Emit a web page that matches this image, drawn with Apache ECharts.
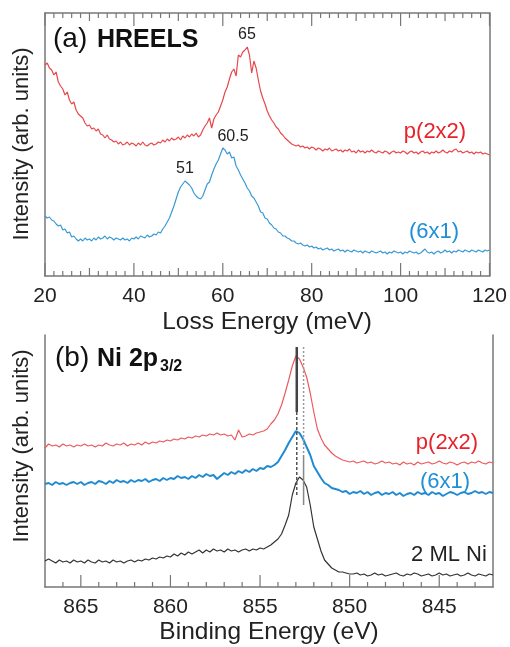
<!DOCTYPE html>
<html>
<head>
<meta charset="utf-8">
<script src="https://cdn.jsdelivr.net/npm/echarts@6/dist/echarts.min.js"></script>
<style>
html,body{margin:0;padding:0;background:#fff;}
#chart{width:510px;height:647px;}
</style>
</head>
<body>
<div id="chart"></div>
<script>
// (a) HREELS - loss energy in meV
var lossEnergy = [
  20,20.5,21,21.5,22,22.5,23,23.5,24,24.5,
  25,25.5,26,26.5,27,27.5,28,28.5,29,29.5,
  30,30.5,31,31.5,32,32.5,33,33.5,34,34.5,
  35,35.5,36,36.5,37,37.5,38,38.5,39,39.5,
  40,40.5,41,41.5,42,42.5,43,43.5,44,44.5,
  45,45.5,46,46.5,47,47.5,48,48.5,49,49.5,
  50,50.5,51,51.5,52,52.5,53,53.5,54,54.5,
  55,55.5,56,56.5,57,57.5,58,58.5,59,59.5,
  60,60.5,61,61.5,62,62.5,63,63.5,64,64.5,
  65,65.5,66,66.5,67,67.5,68,68.5,69,69.5,
  70,70.5,71,71.5,72,72.5,73,73.5,74,74.5,
  75,75.5,76,76.5,77,77.5,78,78.5,79,79.5,
  80,80.5,81,81.5,82,82.5,83,83.5,84,84.5,
  85,85.5,86,86.5,87,87.5,88,88.5,89,89.5,
  90,90.5,91,91.5,92,92.5,93,93.5,94,94.5,
  95,95.5,96,96.5,97,97.5,98,98.5,99,99.5,
  100,100.5,101,101.5,102,102.5,103,103.5,104,104.5,
  105,105.5,106,106.5,107,107.5,108,108.5,109,109.5,
  110,110.5,111,111.5,112,112.5,113,113.5,114,114.5,
  115,115.5,116,116.5,117,117.5,118,118.5,119,119.5,
  120
];
var hreelsP2x2 = [
  211,213,208,206,201,204,194,190,187,181,
  184,176,172,174,166,162,160,158,153,150,
  151,147,148,145,147,142,141,138,141,137,
  136,134,135,132,134,131,132,134,131,133,
  132,130,133,131,134,131,130,132,133,131,
  132,134,133,136,134,137,135,138,136,137,
  139,136,140,138,141,139,142,140,143,139,
  141,146,150,153,158,148,157,161,164,170,
  176,184,189,197,204,207,200,221,219,224,
  226,229,221,203,215,208,196,185,178,172,
  165,160,156,153,149,147,143,141,138,136,
  134,132,131,130,131,129,130,128,129,127,
  129,128,126,128,127,125,127,126,128,125,
  126,127,125,126,124,126,125,127,124,125,
  123,126,124,125,123,125,124,126,124,123,
  125,124,123,125,124,122,124,125,123,124,
  123,125,124,122,124,125,123,124,122,124,
  125,123,124,122,124,123,125,123,124,126,
  124,123,125,124,126,127,124,125,123,124,
  125,123,124,122,124,123,124,122,123,122,
  121
];
var hreels6x1 = [
  60,58,59,56,55,52,50,51,46,47,
  43,44,39,40,37,35,37,35,38,36,
  37,35,38,36,39,37,38,40,37,39,
  38,36,38,37,36,38,36,37,35,38,
  37,39,37,40,39,38,41,39,40,42,
  41,44,43,47,50,54,58,64,70,77,
  84,89,92,95,93,91,88,83,80,78,
  77,80,86,92,94,101,107,112,116,122,
  128,126,122,124,118,119,110,106,101,97,
  93,88,85,80,78,74,70,64,63,58,
  57,53,51,48,47,44,43,40,40,38,
  37,35,35,33,32,33,31,30,31,29,
  30,28,29,27,28,26,27,28,26,27,
  25,26,27,25,26,24,26,25,24,26,
  25,24,25,23,25,24,23,25,24,23,
  24,25,23,24,22,24,23,25,24,23,
  24,22,24,23,25,24,23,24,22,23,
  25,27,24,23,24,22,24,25,23,24,
  26,24,25,23,25,24,26,25,24,26,
  25,24,26,25,24,26,25,24,26,25,
  26
];

// (b) Ni 2p3/2 XPS - binding energy in eV
var bindingEnergy = [
  842,842.2,842.4,842.6,842.8,843,843.2,843.4,843.6,843.8,
  844,844.2,844.4,844.6,844.8,845,845.2,845.4,845.6,845.8,
  846,846.2,846.4,846.6,846.8,847,847.2,847.4,847.6,847.8,
  848,848.2,848.4,848.6,848.8,849,849.2,849.4,849.6,849.8,
  850,850.2,850.4,850.6,850.8,851,851.2,851.4,851.6,851.8,
  852,852.2,852.4,852.6,852.8,853,853.2,853.4,853.6,853.8,
  854,854.2,854.4,854.6,854.8,855,855.2,855.4,855.6,855.8,
  856,856.2,856.4,856.6,856.8,857,857.2,857.4,857.6,857.8,
  858,858.2,858.4,858.6,858.8,859,859.2,859.4,859.6,859.8,
  860,860.2,860.4,860.6,860.8,861,861.2,861.4,861.6,861.8,
  862,862.2,862.4,862.6,862.8,863,863.2,863.4,863.6,863.8,
  864,864.2,864.4,864.6,864.8,865,865.2,865.4,865.6,865.8,
  866,866.2,866.4,866.6,866.8,
  867
];
var xpsP2x2 = [
  124,125,123,124,126,124,125,123,125,124,
  122,124,125,123,124,126,124,123,125,124,
  123,125,122,124,123,125,122,124,123,125,
  124,126,124,123,125,124,126,125,124,126,
  125,126,127,129,131,134,138,142,149,158,
  175,194,210,220,228,231,221,207,194,182,
  173,167,163,158,156,155,154,152,153,151,
  150,157,147,152,151,153,152,154,152,153,
  151,152,150,151,149,150,148,149,147,148,
  146,147,145,146,144,145,143,145,142,144,
  142,143,141,144,142,143,141,142,144,141,
  142,140,142,141,143,141,142,140,142,141,
  143,140,142,141,143,
  139
];
var xps6x1 = [
  94,95,93,95,94,96,94,93,95,94,
  92,94,95,93,91,94,93,95,92,94,
  93,95,92,94,93,91,94,92,95,93,
  94,92,95,94,92,95,93,96,94,95,
  93,96,95,97,98,99,102,104,109,115,
  121,132,140,148,154,156,150,144,137,131,
  125,122,120,121,118,119,116,118,115,117,
  114,116,113,115,112,114,111,108,112,111,
  113,110,112,109,111,108,110,109,111,108,
  109,107,109,106,108,107,105,108,106,107,
  105,107,104,106,105,107,104,106,103,105,
  106,103,105,104,102,105,103,105,104,102,
  104,103,105,102,104,
  103
];
var xpsNi2ML = [
  12,13,11,12,13,11,12,14,12,11,
  13,12,11,13,12,14,12,11,13,12,
  11,13,14,12,13,11,12,14,13,12,
  11,13,12,14,12,11,13,12,14,13,
  13,14,15,15,17,19,23,27,36,48,
  60,82,100,107,110,104,92,72,62,53,
  48,45,42,40,38,39,37,38,36,38,
  37,35,37,36,38,35,37,36,38,35,
  37,34,37,35,33,35,32,34,31,33,
  30,31,29,30,28,29,27,28,26,27,
  25,27,26,24,26,25,27,24,26,25,
  27,24,25,27,24,26,25,27,24,26,
  25,27,24,26,28,
  26
];

// peak position markers (eV, arb. units)
var peakLineA = [[852.95, 240], [852.95, 175]];
var peakLineADash = [[852.95, 175], [852.95, 90]];
var peakLineBDot = [[852.57, 240], [852.57, 132]];
var peakLineB = [[852.57, 132], [852.57, 82]];

// tick values
var lossTicks = [20, 40, 60, 80, 100, 120];
var lossMidTicks = [30, 50, 70, 90, 110];
var lossMinorTicks = [22, 24, 26, 28, 32, 34, 36, 38, 42, 44, 46, 48, 52, 54, 56, 58,
  62, 64, 66, 68, 72, 74, 76, 78, 82, 84, 86, 88, 92, 94, 96, 98,
  102, 104, 106, 108, 112, 114, 116, 118];
var bindingTicks = [845, 850, 855, 860, 865];
var bindingMinorTicks = [843, 844, 846, 847, 848, 849, 851, 852, 853, 854, 856, 857, 858, 859, 861, 862, 863, 864, 866];

var FONT = 'Liberation Sans';
var AXIS = '#777';
var RED_TXT = '#e8222a', BLUE_TXT = '#1f8fd6';
var TOP_MAX = 263, BOT_MAX = 252;

function pairs(xs, ys) {
  return xs.map(function (x, i) { return [x, ys[i]]; });
}

function hAxis(grid, pos, min, max, opts) {
  var a = {
    type: 'value', gridIndex: grid, position: pos, min: min, max: max,
    axisLine: { show: true, onZero: false, lineStyle: { color: AXIS, width: 1.5 } },
    axisTick: { show: false },
    axisLabel: { show: !!opts.labels, margin: 10, fontSize: 21, color: '#222', fontFamily: FONT },
    splitLine: { show: false }
  };
  if (opts.interval) a.interval = opts.interval;
  if (opts.inverse) a.inverse = true;
  if (opts.custom) a.axisLabel.customValues = opts.custom;
  return a;
}

function vAxis(grid, pos) {
  return {
    type: 'value', gridIndex: grid, position: pos, min: 0,
    max: grid === 0 ? TOP_MAX : BOT_MAX,
    axisLine: { show: true, lineStyle: { color: AXIS, width: 1.5 } },
    axisTick: { show: false }, axisLabel: { show: false }, splitLine: { show: false }
  };
}

// inward ticks drawn at the tick values through the axis scale
function ticks(xIdx, yIdx, values, edge, len) {
  return {
    type: 'custom', xAxisIndex: xIdx, yAxisIndex: yIdx, silent: true, clip: false, z: 3,
    encode: { x: 0, y: 1 },
    data: values.map(function (v) { return [v, edge]; }),
    renderItem: function (params, api) {
      var p = api.coord([api.value(0), api.value(1)]);
      var dir = api.value(1) > 0 ? 1 : -1;
      return {
        type: 'line',
        shape: { x1: p[0], y1: p[1], x2: p[0], y2: p[1] + dir * len },
        style: { stroke: AXIS, lineWidth: 1.2 }
      };
    }
  };
}

function txt(text, x, y, size, color, opt) {
  opt = opt || {};
  return {
    type: 'text', x: x, y: y, rotation: opt.rot || 0, silent: true,
    style: {
      text: text, fontSize: size, fontFamily: FONT, fontWeight: opt.bold ? 'bold' : 'normal',
      fill: color, align: opt.align || 'center', verticalAlign: 'middle'
    }
  };
}

var chart = echarts.init(document.getElementById('chart'));
var option = {
  animation: false,
  grid: [
    { left: 45, top: 13, width: 448, height: 263 },
    { left: 45, top: 335, width: 448, height: 252 }
  ],
  xAxis: [
    hAxis(0, 'bottom', 20, 120, { interval: 20, labels: true }),
    hAxis(0, 'top', 20, 120, { interval: 20 }),
    hAxis(1, 'bottom', 842, 867, { inverse: true, labels: true, custom: bindingTicks })
  ],
  yAxis: [vAxis(0, 'left'), vAxis(0, 'right'), vAxis(1, 'left'), vAxis(1, 'right')],
  series: [
    { name: 'p(2x2) HREELS', type: 'line', xAxisIndex: 0, yAxisIndex: 0, symbol: 'none',
      lineStyle: { color: '#e8474c', width: 1.2 }, data: pairs(lossEnergy, hreelsP2x2) },
    { name: '(6x1) HREELS', type: 'line', xAxisIndex: 0, yAxisIndex: 0, symbol: 'none',
      lineStyle: { color: '#3a9ad4', width: 1.2 }, data: pairs(lossEnergy, hreels6x1) },
    { name: 'p(2x2) XPS', type: 'line', xAxisIndex: 2, yAxisIndex: 2, symbol: 'none',
      lineStyle: { color: '#ec5a5e', width: 1.2 }, data: pairs(bindingEnergy, xpsP2x2) },
    { name: '(6x1) XPS', type: 'line', xAxisIndex: 2, yAxisIndex: 2, symbol: 'none',
      lineStyle: { color: '#1f8ad2', width: 2 }, data: pairs(bindingEnergy, xps6x1) },
    { name: '2 ML Ni', type: 'line', xAxisIndex: 2, yAxisIndex: 2, symbol: 'none',
      lineStyle: { color: '#333', width: 1.2 }, data: pairs(bindingEnergy, xpsNi2ML) },
    { type: 'line', xAxisIndex: 2, yAxisIndex: 2, symbol: 'none',
      lineStyle: { color: '#444', width: 2.5 }, data: peakLineA },
    { type: 'line', xAxisIndex: 2, yAxisIndex: 2, symbol: 'none',
      lineStyle: { color: '#555', width: 1.5, type: [3, 2] }, data: peakLineADash },
    { type: 'line', xAxisIndex: 2, yAxisIndex: 2, symbol: 'none',
      lineStyle: { color: '#999', width: 1.5, type: [2, 2] }, data: peakLineBDot },
    { type: 'line', xAxisIndex: 2, yAxisIndex: 2, symbol: 'none',
      lineStyle: { color: '#888', width: 1.5 }, data: peakLineB },
    // panel (a) ticks, bottom and top edges
    ticks(0, 0, lossTicks, 0, 13),
    ticks(0, 0, lossMidTicks, 0, 8),
    ticks(0, 0, lossMinorTicks, 0, 5),
    ticks(0, 0, lossTicks, TOP_MAX, 13),
    ticks(0, 0, lossMidTicks, TOP_MAX, 8),
    ticks(0, 0, lossMinorTicks, TOP_MAX, 5),
    // panel (b) ticks, bottom edge only
    ticks(2, 2, bindingTicks, 0, 12),
    ticks(2, 2, bindingMinorTicks, 0, 5)
  ],
  graphic: [
    txt('Intensity (arb. units)', 22, 144, 22, '#222', { rot: Math.PI / 2 }),
    txt('Intensity (arb. units)', 22, 446, 22, '#222', { rot: Math.PI / 2 }),
    txt('Loss Energy (meV)', 267, 322, 24.5, '#222'),
    txt('Binding Energy (eV)', 269, 632, 24.5, '#222'),
    txt('(a)', 53, 39, 28, '#111', { align: 'left' }),
    txt('HREELS', 97, 40, 25, '#111', { align: 'left', bold: true }),
    txt('65', 247, 35, 16, '#222'),
    txt('60.5', 233, 137, 16, '#222'),
    txt('51', 185, 169, 16, '#222'),
    txt('p(2x2)', 435, 132, 22, RED_TXT),
    txt('(6x1)', 434, 232, 22, BLUE_TXT),
    txt('(b)', 55, 358, 28, '#111', { align: 'left' }),
    txt('Ni 2p', 97, 359, 25, '#111', { align: 'left', bold: true }),
    txt('3/2', 160, 367, 16, '#111', { align: 'left', bold: true }),
    txt('p(2x2)', 447, 443, 22, RED_TXT),
    txt('(6x1)', 445, 482, 22, BLUE_TXT),
    txt('2 ML Ni', 449, 555, 22, '#222')
  ]
};
chart.setOption(option);
</script>
</body>
</html>
